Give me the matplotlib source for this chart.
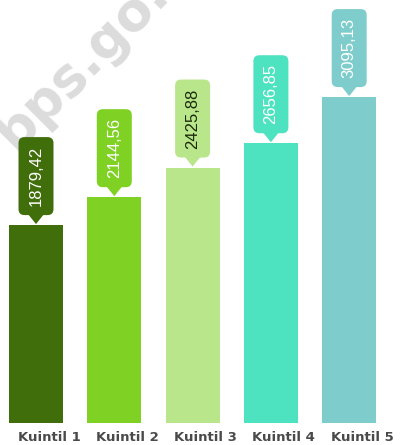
import numpy as np
import matplotlib
matplotlib.use("Agg")
import matplotlib.pyplot as plt
import matplotlib.transforms as mtransforms
from matplotlib.patches import FancyBboxPatch, Polygon

categories = ["Kuintil 1", "Kuintil 2", "Kuintil 3", "Kuintil 4", "Kuintil 5"]
values = [1879.42, 2144.56, 2425.88, 2656.85, 3095.13]
value_labels = ["1879,42", "2144,56", "2425,88", "2656,85", "3095,13"]
colors = ["#3f6e0b", "#7fd123", "#b9e68a", "#4de2c0", "#7ecdcc"]
text_colors = ["white", "white", "#1b2a0a", "white", "white"]

W, H, DPI = 400, 445, 100
fig = plt.figure(figsize=(W / DPI, H / DPI), dpi=DPI)
base_px = 423  # baseline, pixels from top
ax = fig.add_axes([0, (H - base_px) / H, 1, base_px / H])

px_per_val = 0.1053
step_px = 78.3
first_px = 36
ax.set_ylim(0, base_px / px_per_val)
ax.set_xlim(-first_px / step_px, (W - first_px) / step_px)

# unit sizes of one pixel in data space
ux = 1 / step_px
uy = 1 / px_per_val

x = np.arange(len(categories))
ax.bar(x, values, width=54 * ux, color=colors, zorder=2)

# callout boxes with a small pointer down to the bar top
box_w, box_h, gap, r = 35, 78, 10, 6
for xi, v, lab, c, tc in zip(x, values, value_labels, colors, text_colors):
    y0 = v + gap * uy
    box = FancyBboxPatch((xi - box_w / 2 * ux, y0), box_w * ux, box_h * uy,
                         boxstyle=f"round,pad=0,rounding_size={r * ux}",
                         mutation_aspect=uy / ux, fc=c, ec="none", zorder=3)
    ax.add_patch(box)
    tri = Polygon([(xi - 8 * ux, y0 + 1 * uy), (xi + 8 * ux, y0 + 1 * uy),
                   (xi, v + 1 * uy)], closed=True, fc=c, ec="none", zorder=3)
    ax.add_patch(tri)
    ax.text(xi, y0 + box_h / 2 * uy, lab, rotation=90, ha="center", va="center",
            color=tc, fontsize=12, family="Liberation Sans", zorder=4)

ax.set_xticks(x)
ax.set_xticklabels(categories, fontsize=9.5, fontweight="bold", color="#4a4a4a")
ax.tick_params(axis="x", length=0, pad=6)
shift = mtransforms.ScaledTranslation(13 / DPI, 0, fig.dpi_scale_trans)
for t in ax.get_xticklabels():
    t.set_transform(t.get_transform() + shift)
ax.set_yticks([])
for s in ax.spines.values():
    s.set_visible(False)

# faint site watermark
ax.text(102 / W, 1 - 43 / H, "bps.go.id", transform=fig.transFigure,
        rotation=45, rotation_mode="anchor", ha="center", va="center",
        fontsize=38, fontweight="bold", color="#dcdcdc", zorder=0)

fig.savefig("out.png", dpi=DPI)
